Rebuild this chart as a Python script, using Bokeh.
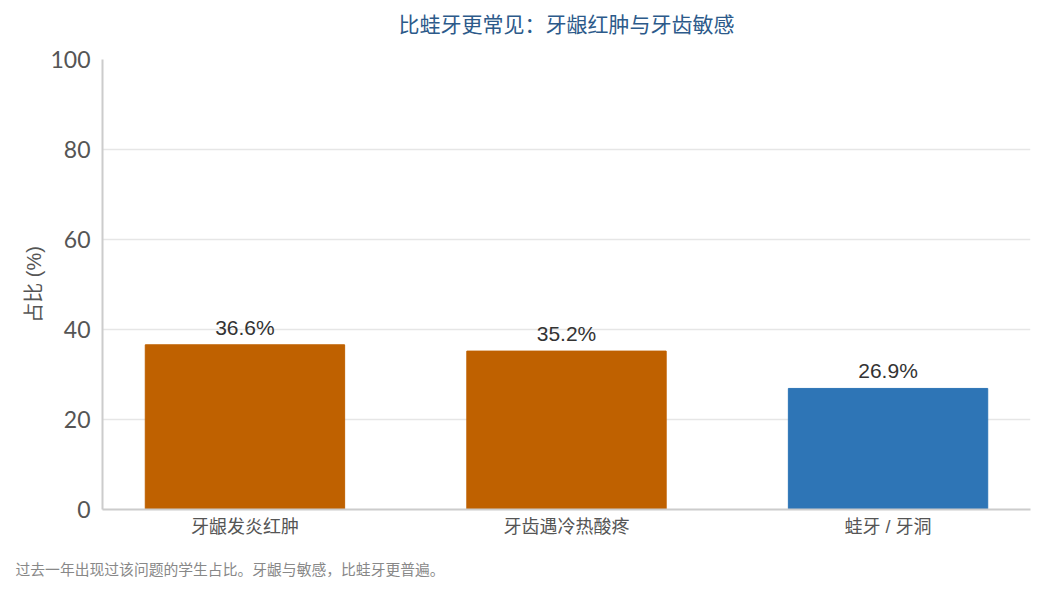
from bokeh.plotting import figure
from bokeh.models import ColumnDataSource, LabelSet, Title, FixedTicker, Range1d
from bokeh.core.properties import value
from bokeh.embed import file_html
from bokeh.resources import INLINE

categories = ["牙龈发炎红肿", "牙齿遇冷热酸疼", "蛙牙 / 牙洞"]
values = [36.6, 35.2, 26.9]
colors = ["#bf6100", "#bf6100", "#2e75b6"]
y_ticks = [0, 20, 40, 60, 80, 100]
title_text = "比蛙牙更常见：牙龈红肿与牙齿敏感"
note_text = "过去一年出现过该问题的学生占比。牙龈与敏感，比蛙牙更普遍。"
y_label = "占比 (%)"

FONT = "Liberation Sans, Noto Sans CJK SC, sans-serif"
TICK_FONT = "Lato, Liberation Sans, sans-serif"

xs = list(range(len(categories)))
src = ColumnDataSource(dict(
    x=xs, top=values, color=colors,
    label=[f"{v:.1f}%" for v in values],
))

p = figure(width=1036, height=584, output_backend="svg", toolbar_location=None,
           title_location=None,
           x_range=Range1d(-0.443, len(categories) - 1 + 0.443),
           y_range=Range1d(0, 100),
           min_border_left=102, min_border_right=6, min_border_top=59, min_border_bottom=75)

p.vbar(x="x", top="top", width=0.62, bottom=0, color="color", source=src)

labels = LabelSet(x="x", y="top", text="label", source=src, text_align="center",
                  text_baseline="bottom", y_offset=6, text_font_size="21px",
                  text_color="#333333", text_font=value(FONT))
p.add_layout(labels)

# spacer between frame and title, then the title itself
top_gap = Title(text=" ", text_font_size="1px", standoff=21)
p.add_layout(top_gap, "above")
main_title = Title(text=title_text, align="center", text_font=FONT, text_font_size="21px",
                   text_font_style="normal", text_color="#2c5a8a", standoff=0)
p.add_layout(main_title, "above")

bottom_gap = Title(text=" ", text_font_size="1px", standoff=17)
p.add_layout(bottom_gap, "below")
note = Title(text=note_text, align="left", text_font=FONT, text_font_size="14.8px",
             text_font_style="normal", text_color="#888888", offset=-87, standoff=0)
p.add_layout(note, "below")

p.xaxis.ticker = FixedTicker(ticks=xs)
p.xaxis.major_label_overrides = {i: c for i, c in enumerate(categories)}
p.xaxis.major_label_text_font = FONT
p.xaxis.major_label_text_font_size = "18px"
p.xaxis.major_label_text_color = "#555555"
p.xaxis.major_tick_line_color = None
p.xaxis.minor_tick_line_color = None
p.xaxis.axis_line_color = "#cccccc"
p.xaxis.axis_line_width = 2
p.xaxis.major_label_standoff = 1

p.yaxis.ticker = FixedTicker(ticks=y_ticks)
p.yaxis.axis_label = y_label
p.yaxis.axis_label_text_font = FONT
p.yaxis.axis_label_text_font_size = "20px"
p.yaxis.axis_label_text_font_style = "normal"
p.yaxis.axis_label_text_color = "#555555"
p.yaxis.major_label_text_font = TICK_FONT
p.yaxis.major_label_text_font_size = "23px"
p.yaxis.major_label_text_color = "#555555"
p.yaxis.major_tick_line_color = None
p.yaxis.minor_tick_line_color = None
p.yaxis.axis_line_color = "#cccccc"
p.yaxis.axis_line_width = 2
p.yaxis.major_label_standoff = 6
p.yaxis.axis_label_standoff = 2

p.xgrid.grid_line_color = None
p.ygrid.grid_line_color = "#e6e6e6"
p.ygrid.grid_line_width = 1.5
p.outline_line_color = None

open("out.html", "w").write(file_html(p, INLINE))
